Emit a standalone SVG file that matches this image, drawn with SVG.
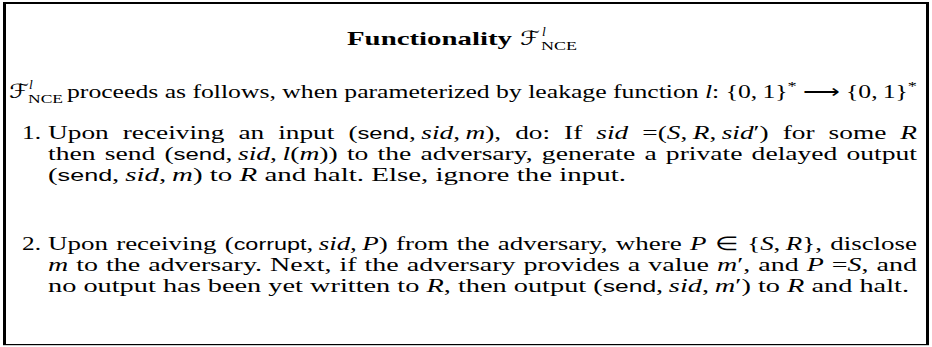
<svg xmlns="http://www.w3.org/2000/svg" width="932" height="347" viewBox="0 0 932 347">
<style>
text{font-family:"Liberation Serif","Times New Roman",serif;font-size:19px;fill:#000}
.sf{font-family:"Liberation Sans",Arial,sans-serif;font-size:16.5px}
.it{font-style:italic}
.b{font-weight:bold}
.cal{font-family:"DejaVu Serif","DejaVu Sans",serif;font-size:20px}
.sm{font-size:13.5px}
</style>
<rect x="0" y="0" width="932" height="347" fill="#fff"/>
<g id="frame">
<rect x="3" y="2" width="3" height="343" fill="#000"/>
<rect x="3" y="2" width="926" height="2" fill="#000"/>
<rect x="926" y="2" width="3" height="343" fill="#000"/>
<rect x="3" y="344" width="926" height="1.2" fill="#000"/>
</g>
<g id="title">
<text x="347" y="45" class="b" textLength="165" lengthAdjust="spacingAndGlyphs">Functionality</text>
<text x="520" y="45" class="cal" textLength="20" lengthAdjust="spacingAndGlyphs">ℱ</text>
<text x="542" y="36" class="sm it">l</text>
<text x="541" y="50" class="sm" textLength="36" lengthAdjust="spacingAndGlyphs">NCE</text>
</g>
<g id="intro">
<text x="9" y="98" class="cal" textLength="20" lengthAdjust="spacingAndGlyphs">ℱ</text>
<text x="29" y="89" class="sm it">l</text>
<text x="28" y="103" class="sm" textLength="35" lengthAdjust="spacingAndGlyphs">NCE</text>
<text x="67" y="98" textLength="850" lengthAdjust="spacingAndGlyphs">proceeds as follows, when parameterized by leakage function <tspan class="it">l</tspan>: {0,&#8201;1}<tspan class="sm" dy="-8">*</tspan><tspan dy="8"> ⟶ {0,&#8201;1}</tspan><tspan class="sm" dy="-8">*</tspan></text>
</g>
<g id="item1">
<text x="22" y="139" textLength="19" lengthAdjust="spacingAndGlyphs">1.</text>
<text x="48" y="139" textLength="869" lengthAdjust="spacingAndGlyphs" word-spacing="5">Upon receiving an input (<tspan class="sf">send</tspan>,&#8201;<tspan class="it">sid</tspan>,&#8201;<tspan class="it">m</tspan>), do: If <tspan class="it">sid</tspan> =(<tspan class="it">S</tspan>,&#8201;<tspan class="it">R</tspan>,&#8201;<tspan class="it">sid</tspan>′) for some <tspan class="it">R</tspan></text>
<text x="48" y="160" textLength="869" lengthAdjust="spacingAndGlyphs" word-spacing="1.6">then send (<tspan class="sf">send</tspan>,&#8201;<tspan class="it">sid</tspan>,&#8201;<tspan class="it">l</tspan>(<tspan class="it">m</tspan>)) to the adversary, generate a private delayed output</text>
<text x="48" y="181" textLength="578" lengthAdjust="spacingAndGlyphs">(<tspan class="sf">send</tspan>,&#8201;<tspan class="it">sid</tspan>,&#8201;<tspan class="it">m</tspan>) to <tspan class="it">R</tspan> and halt. Else, ignore the input.</text>
</g>
<g id="item2">
<text x="22" y="250" textLength="19" lengthAdjust="spacingAndGlyphs">2.</text>
<text x="48" y="250" textLength="869" lengthAdjust="spacingAndGlyphs" word-spacing="1.1">Upon receiving (<tspan class="sf">corrupt</tspan>,&#8201;<tspan class="it">sid</tspan>,&#8201;<tspan class="it">P</tspan>) from the adversary, where <tspan class="it">P</tspan> ∈ {<tspan class="it">S</tspan>,&#8201;<tspan class="it">R</tspan>}, disclose</text>
<text x="48" y="271" textLength="869" lengthAdjust="spacingAndGlyphs" word-spacing="0.7"><tspan class="it">m</tspan> to the adversary. Next, if the adversary provides a value <tspan class="it">m</tspan>′, and <tspan class="it">P</tspan> =<tspan class="it">S</tspan>, and</text>
<text x="48" y="292" textLength="861" lengthAdjust="spacingAndGlyphs">no output has been yet written to <tspan class="it">R</tspan>, then output (<tspan class="sf">send</tspan>,&#8201;<tspan class="it">sid</tspan>,&#8201;<tspan class="it">m</tspan>′) to <tspan class="it">R</tspan> and halt.</text>
</g>
</svg>
